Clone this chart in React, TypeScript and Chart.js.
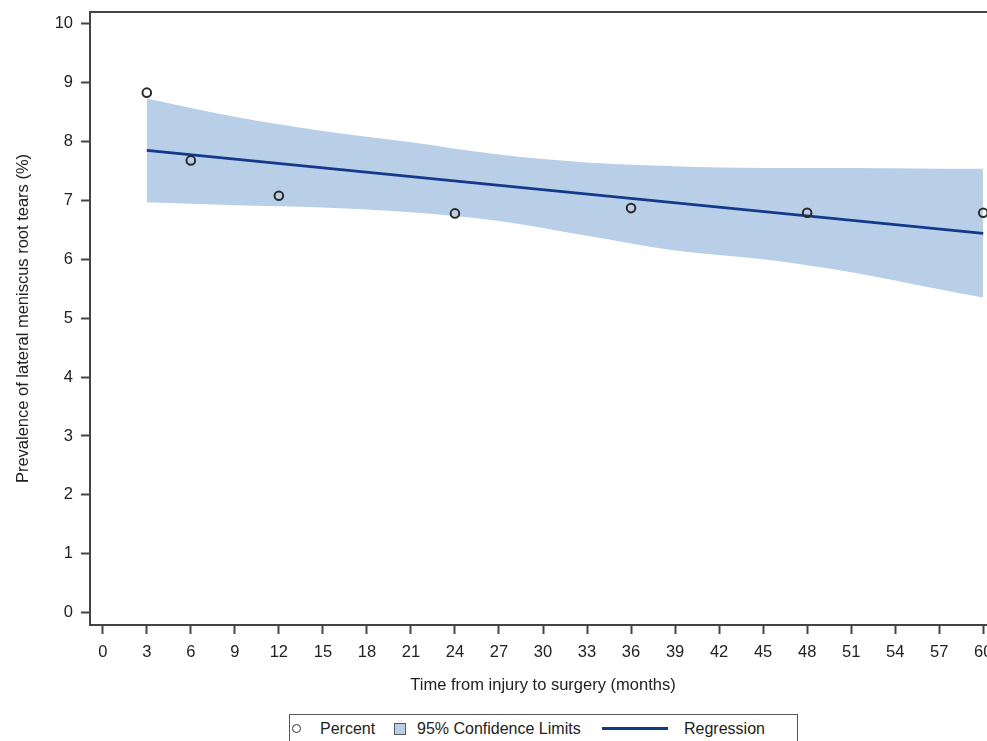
import React, { useEffect, useRef } from "react";
import { Chart, registerables } from "chart.js";

Chart.register(...registerables);

// ---- data ----
const MONTHS = [3, 6, 12, 24, 36, 48, 60];
const PERCENT = [8.83, 7.68, 7.08, 6.78, 6.87, 6.79, 6.79];
const REG_X = [3, 60];
const REG_Y = [7.85, 6.44];
const BAND_X = [3, 9, 15, 21, 27, 33, 39, 45, 51, 57, 60];
const BAND_UPPER = [8.73, 8.42, 8.18, 7.99, 7.78, 7.645, 7.58, 7.55, 7.55, 7.54, 7.54];
const BAND_LOWER = [6.97, 6.92, 6.88, 6.8, 6.65, 6.4, 6.15, 6.0, 5.78, 5.49, 5.35];
const X_TICKS = [0, 3, 6, 9, 12, 15, 18, 21, 24, 27, 30, 33, 36, 39, 42, 45, 48, 51, 54, 57, 60];
const Y_TICKS = [0, 1, 2, 3, 4, 5, 6, 7, 8, 9, 10];
const X_TITLE = "Time from injury to surgery (months)";
const Y_TITLE = "Prevalence of lateral meniscus root tears (%)";
const LEGEND = ["Percent", "95% Confidence Limits", "Regression"];

const BAND_COLOR = "#B9CFE7";
const LINE_COLOR = "#12398A";
const AXIS_COLOR = "#444444";
const TEXT_COLOR = "#222222";
const FONT = "'Liberation Sans', Arial, sans-serif";

const CANVAS_W = 1010;
const CANVAS_H = 741;

const framePlugin = {
  id: "frame",
  afterDraw(chart: any) {
    const { ctx, chartArea } = chart;
    ctx.save();
    ctx.strokeStyle = AXIS_COLOR;
    ctx.lineWidth = 2;
    ctx.beginPath();
    ctx.moveTo(chartArea.left, chartArea.top);
    ctx.lineTo(chartArea.right, chartArea.top);
    ctx.lineTo(chartArea.right, chartArea.bottom);
    ctx.stroke();
    ctx.restore();
  },
};

export default function App() {
  const ref = useRef<HTMLCanvasElement | null>(null);

  useEffect(() => {
    if (!ref.current) return;
    const chart = new Chart(ref.current, {
      type: "line",
      data: {
        datasets: [
          {
            label: "upper",
            data: BAND_X.map((x, i) => ({ x, y: BAND_UPPER[i] })),
            borderWidth: 0,
            pointRadius: 0,
            backgroundColor: BAND_COLOR,
            borderColor: BAND_COLOR,
            cubicInterpolationMode: "monotone",
            fill: "+1",
            order: 3,
          },
          {
            label: "lower",
            data: BAND_X.map((x, i) => ({ x, y: BAND_LOWER[i] })),
            borderWidth: 0,
            pointRadius: 0,
            backgroundColor: BAND_COLOR,
            borderColor: BAND_COLOR,
            cubicInterpolationMode: "monotone",
            fill: false,
            order: 3,
          },
          {
            label: "Regression",
            data: REG_X.map((x, i) => ({ x, y: REG_Y[i] })),
            borderColor: LINE_COLOR,
            borderWidth: 2.6,
            pointRadius: 0,
            fill: false,
            order: 2,
          },
          {
            label: "Percent",
            data: MONTHS.map((x, i) => ({ x, y: PERCENT[i] })),
            showLine: false,
            pointRadius: 4.3,
            pointBorderWidth: 2,
            pointBorderColor: "#2a2a2a",
            pointBackgroundColor: "rgba(255,255,255,0)",
            fill: false,
            order: 1,
          },
        ],
      },
      options: {
        responsive: false,
        animation: false,
        events: [],
        layout: { padding: { top: 12, right: CANVAS_W - 996, bottom: 42, left: 10 } },
        plugins: {
          legend: { display: false },
          tooltip: { enabled: false },
        },
        scales: {
          x: {
            type: "linear",
            min: -0.87,
            max: 60.87,
            afterBuildTicks: (s: any) => {
              s.ticks = X_TICKS.map((v) => ({ value: v }));
            },
            afterFit: (s: any) => {
              s.height = 74;
              s.paddingLeft = 0;
              s.paddingRight = 0;
            },
            ticks: {
              autoSkip: false,
              maxRotation: 0,
              padding: 9,
              color: TEXT_COLOR,
              font: { family: FONT, size: 16.5 },
              callback: (v: any) => String(v),
            },
            grid: {
              display: true,
              drawOnChartArea: false,
              drawTicks: true,
              tickLength: 9,
              tickWidth: 2,
              tickColor: AXIS_COLOR,
            },
            border: { display: true, color: AXIS_COLOR, width: 2 },
            title: {
              display: true,
              text: X_TITLE,
              color: TEXT_COLOR,
              font: { family: FONT, size: 16.5 },
              padding: { top: 4, bottom: 4 },
            },
          },
          y: {
            type: "linear",
            min: -0.21,
            max: 10.2,
            afterBuildTicks: (s: any) => {
              s.ticks = Y_TICKS.map((v) => ({ value: v }));
            },
            afterFit: (s: any) => {
              s.width = 80;
              s.paddingTop = 0;
              s.paddingBottom = 0;
            },
            ticks: {
              padding: 8,
              color: TEXT_COLOR,
              font: { family: FONT, size: 16.5 },
              callback: (v: any) => String(v),
            },
            grid: {
              display: true,
              drawOnChartArea: false,
              drawTicks: true,
              tickLength: 9,
              tickWidth: 2,
              tickColor: AXIS_COLOR,
            },
            border: { display: true, color: AXIS_COLOR, width: 2 },
            title: {
              display: true,
              text: Y_TITLE,
              color: TEXT_COLOR,
              font: { family: FONT, size: 16.5 },
              padding: { top: 4, bottom: 4 },
            },
          },
        },
      },
      plugins: [framePlugin],
    } as any);
    return () => chart.destroy();
  }, []);

  const textStyle: React.CSSProperties = {
    position: "absolute",
    top: 4,
    fontFamily: FONT,
    fontSize: 16,
    color: TEXT_COLOR,
    lineHeight: "20px",
    whiteSpace: "nowrap",
  };

  return (
    <div
      style={{
        position: "fixed",
        left: 0,
        top: 0,
        width: 987,
        height: 741,
        overflow: "hidden",
        background: "#ffffff",
      }}
    >
      <canvas ref={ref} width={CANVAS_W} height={CANVAS_H} style={{ display: "block" }} />
      <div
        style={{
          position: "absolute",
          left: 289,
          top: 714,
          width: 507,
          height: 40,
          border: "1px solid #555",
          background: "#fff",
        }}
      >
        <div
          style={{
            position: "absolute",
            left: 2,
            top: 9,
            width: 7,
            height: 7,
            borderRadius: "50%",
            border: "1.6px solid #333",
          }}
        />
        <div style={{ ...textStyle, left: 30 }}>{LEGEND[0]}</div>
        <div
          style={{
            position: "absolute",
            left: 104,
            top: 8,
            width: 10,
            height: 10,
            background: BAND_COLOR,
            border: "1.5px solid #555",
          }}
        />
        <div style={{ ...textStyle, left: 127 }}>{LEGEND[1]}</div>
        <div
          style={{
            position: "absolute",
            left: 312,
            top: 12,
            width: 66,
            height: 3,
            background: LINE_COLOR,
          }}
        />
        <div style={{ ...textStyle, left: 394 }}>{LEGEND[2]}</div>
      </div>
    </div>
  );
}
